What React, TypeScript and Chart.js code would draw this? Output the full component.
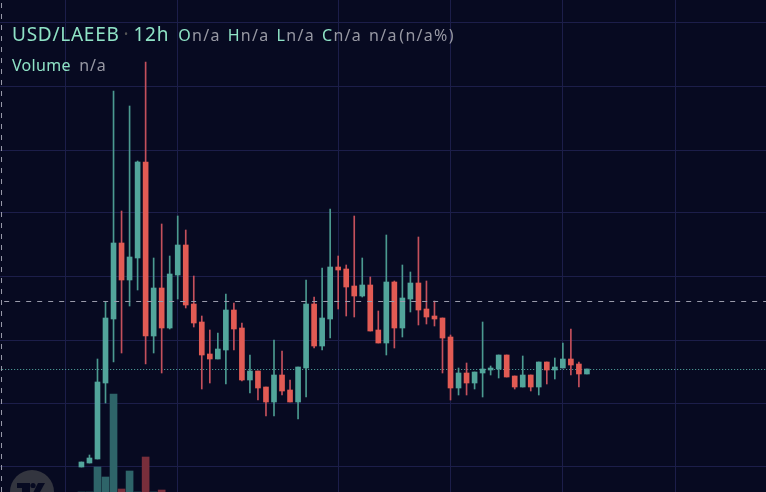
import React, { useEffect, useRef } from 'react';
import Chart from 'chart.js/auto';

const opens = [0.25, 0.29, 0.33, 1.09, 1.73, 2.49, 2.12, 2.34, 3.30, 1.56, 2.04, 1.64, 2.17, 2.47, 1.88, 1.70, 1.38, 1.33, 1.42, 1.82, 1.64, 1.12, 1.21, 1.05, 0.90, 1.17, 1.02, 0.90, 1.24, 1.88, 1.46, 1.73, 2.25, 2.23, 2.06, 1.96, 2.07, 1.62, 1.49, 2.10, 1.64, 1.93, 2.09, 1.83, 1.76, 1.74, 1.55, 1.04, 1.19, 1.09, 1.19, 1.22, 1.23, 1.37, 1.16, 1.05, 1.17, 1.05, 1.30, 1.22, 1.24, 1.33, 1.28, 1.18];
const highs = [0.30, 0.37, 1.33, 1.90, 4.01, 2.81, 3.86, 3.31, 4.30, 2.34, 2.68, 2.36, 2.76, 2.62, 2.16, 1.76, 1.62, 1.59, 1.98, 1.89, 1.69, 1.37, 1.21, 1.05, 1.52, 1.41, 1.12, 1.25, 2.12, 1.95, 2.24, 2.83, 2.36, 2.27, 2.76, 2.34, 2.15, 1.81, 2.57, 2.11, 2.27, 2.20, 2.55, 2.11, 1.91, 1.74, 1.57, 1.24, 1.29, 1.20, 1.70, 1.26, 1.37, 1.37, 1.16, 1.36, 1.17, 1.30, 1.30, 1.34, 1.49, 1.63, 1.30, 1.23];
const lows = [0.25, 0.29, 0.33, 0.89, 1.30, 1.39, 1.86, 2.02, 1.28, 1.39, 1.19, 1.63, 1.93, 1.84, 1.65, 1.03, 1.09, 1.33, 1.08, 1.42, 1.11, 0.99, 0.92, 0.76, 0.76, 0.97, 0.90, 0.73, 0.95, 1.44, 1.42, 1.54, 1.83, 1.76, 1.75, 1.95, 1.61, 1.49, 1.37, 1.44, 1.55, 1.80, 1.67, 1.68, 1.66, 1.19, 0.92, 0.97, 0.97, 1.03, 0.95, 1.17, 1.14, 1.15, 1.03, 1.05, 1.01, 0.97, 1.08, 1.13, 1.24, 1.17, 1.05, 1.18];
const closes = [0.30, 0.34, 1.10, 1.74, 2.49, 2.12, 2.35, 3.30, 1.56, 2.04, 1.64, 2.18, 2.47, 1.87, 1.69, 1.37, 1.33, 1.43, 1.82, 1.63, 1.12, 1.21, 1.04, 0.90, 1.17, 1.01, 0.90, 1.25, 1.88, 1.46, 1.74, 2.25, 2.22, 2.05, 1.96, 2.07, 1.61, 1.49, 2.10, 1.64, 1.94, 2.09, 1.82, 1.75, 1.73, 1.54, 1.04, 1.19, 1.09, 1.20, 1.23, 1.24, 1.37, 1.15, 1.05, 1.17, 1.05, 1.30, 1.22, 1.25, 1.33, 1.27, 1.18, 1.23];
// only the first few candles have a volume bar that reaches into view
const volumes = [0, 0, 25, 15, 98, 3, 21, 0, 35, 0, 2];

const priceTicks = [0.26, 0.89, 1.52, 2.16, 2.79, 3.42, 4.06, 4.69];
const timeTicks = [-2, 12, 32, 46, 60, 74];
const lastPrice = 1.225;
const crosshairPrice = 1.905;
const crosshairTime = -9.96;

const UP = '#52a59b';
const DOWN = '#e25b54';
const UP_WICK = '#4b9a90';
const DOWN_WICK = '#c4505c';
const UP_VOL = '#2e6469';
const DOWN_VOL = '#782e3b';
const GRID = '#1c1e4a';

const isUp = (i: number) => closes[i] >= opens[i];

const App: React.FC = () => {
    const chartRef = useRef<HTMLCanvasElement | null>(null);

    useEffect(() => {
        document.body.style.margin = '0';
        const ctx = chartRef.current?.getContext('2d');
        if (!ctx) return;

        const chart = new Chart(ctx, {
            type: 'bar',
            data: {
                datasets: [
                    {
                        label: 'Volume',
                        yAxisID: 'yVol',
                        data: volumes.map((v, i) => ({ x: i, y: v })),
                        backgroundColor: volumes.map((_, i) => (isUp(i) ? UP_VOL : DOWN_VOL)),
                        barThickness: 7,
                        order: 5,
                    },
                    {
                        label: 'Wick',
                        data: highs.map((h, i) => ({ x: i, y: [lows[i], h] })),
                        backgroundColor: highs.map((_, i) => (isUp(i) ? UP_WICK : DOWN_WICK)),
                        barThickness: 1,
                        order: 3,
                    },
                    {
                        label: 'Body',
                        data: opens.map((o, i) => ({ x: i, y: [o, closes[i]] })),
                        backgroundColor: opens.map((_, i) => (isUp(i) ? UP : DOWN)),
                        barThickness: 5,
                        order: 2,
                    },
                    {
                        type: 'line',
                        label: 'Last',
                        data: [{ x: -11, y: lastPrice }, { x: 86, y: lastPrice }],
                        borderColor: '#58b0a8',
                        borderWidth: 1,
                        borderDash: [1, 2],
                        pointRadius: 0,
                        order: 4,
                    },
                    {
                        type: 'line',
                        label: 'Crosshair',
                        data: [{ x: -11, y: crosshairPrice }, { x: 86, y: crosshairPrice }],
                        borderColor: '#9a9bab',
                        borderWidth: 1,
                        borderDash: [5, 6],
                        pointRadius: 0,
                        order: 1,
                    },
                    {
                        type: 'line',
                        label: 'CrosshairV',
                        data: [{ x: crosshairTime, y: 0 }, { x: crosshairTime, y: 4.92 }],
                        borderColor: '#9a9bab',
                        borderWidth: 1,
                        borderDash: [5, 6],
                        pointRadius: 0,
                        order: 1,
                    },
                ] as any,
            },
            options: {
                responsive: false,
                animation: false,
                layout: { padding: 0 },
                plugins: { legend: { display: false }, tooltip: { enabled: false } },
                datasets: { bar: { grouped: false, borderWidth: 0 } },
                scales: {
                    x: {
                        type: 'linear',
                        offset: false,
                        min: -10.15,
                        max: 85.32,
                        afterBuildTicks: (axis: any) => { axis.ticks = timeTicks.map((value) => ({ value })); },
                        ticks: { display: false },
                        border: { display: false },
                        grid: { color: GRID, drawTicks: false, offset: false },
                    },
                    y: {
                        min: 0,
                        max: 4.92,
                        afterBuildTicks: (axis: any) => { axis.ticks = priceTicks.map((value) => ({ value })); },
                        ticks: { display: false },
                        border: { display: false },
                        grid: { color: GRID, drawTicks: false },
                    },
                    yVol: {
                        display: false,
                        min: 0,
                        max: 492,
                    },
                },
            } as any,
        });

        return () => {
            chart.destroy();
        };
    }, []);

    const mint = '#8fe3c6';
    const grey = '#9798a3';
    const na = { color: grey };
    const field = { marginRight: 7 };

    return (
        <div style={{ position: 'relative', width: 766, height: 492, overflow: 'hidden', background: '#070a21', fontFamily: '"Noto Sans", sans-serif' }}>
            <canvas ref={chartRef} width={766} height={492} style={{ display: 'block' }}></canvas>
            <div style={{ position: 'absolute', left: 12, top: 21, whiteSpace: 'nowrap', color: mint, fontSize: 19, lineHeight: '26px', letterSpacing: 0.75 }}>
                <span>USD/LAEEB</span>
                <span style={{ color: '#555', margin: '0 4px' }}>·</span>
                <span>12h</span>
                <span style={{ fontSize: 16, marginLeft: 9, letterSpacing: 1.3 }}>
                    <span style={field}>O<span style={na}>n/a</span></span>
                    <span style={field}>H<span style={na}>n/a</span></span>
                    <span style={field}>L<span style={na}>n/a</span></span>
                    <span style={field}>C<span style={na}>n/a</span></span>
                    <span style={{ color: grey, wordSpacing: -4 }}>n/a (n/a%)</span>
                </span>
            </div>
            <div style={{ position: 'absolute', left: 12, top: 54, whiteSpace: 'nowrap', color: mint, fontSize: 16, lineHeight: '22px', letterSpacing: 0.3 }}>
                Volume <span style={{ color: grey, marginLeft: 4, letterSpacing: 0.8 }}>n/a</span>
            </div>
            <svg style={{ position: 'absolute', left: 10, top: 470 }} width={44} height={22}>
                <circle cx={22} cy={22} r={22} fill="#33353f" />
                <path d="M7 13H20V22H12V18H7Z" fill="#070a21" />
                <circle cx={23} cy={15.5} r={2.6} fill="#070a21" />
                <path d="M28 13H35L30 22H23.5Z" fill="#070a21" />
            </svg>
        </div>
    );
};

export default App;
